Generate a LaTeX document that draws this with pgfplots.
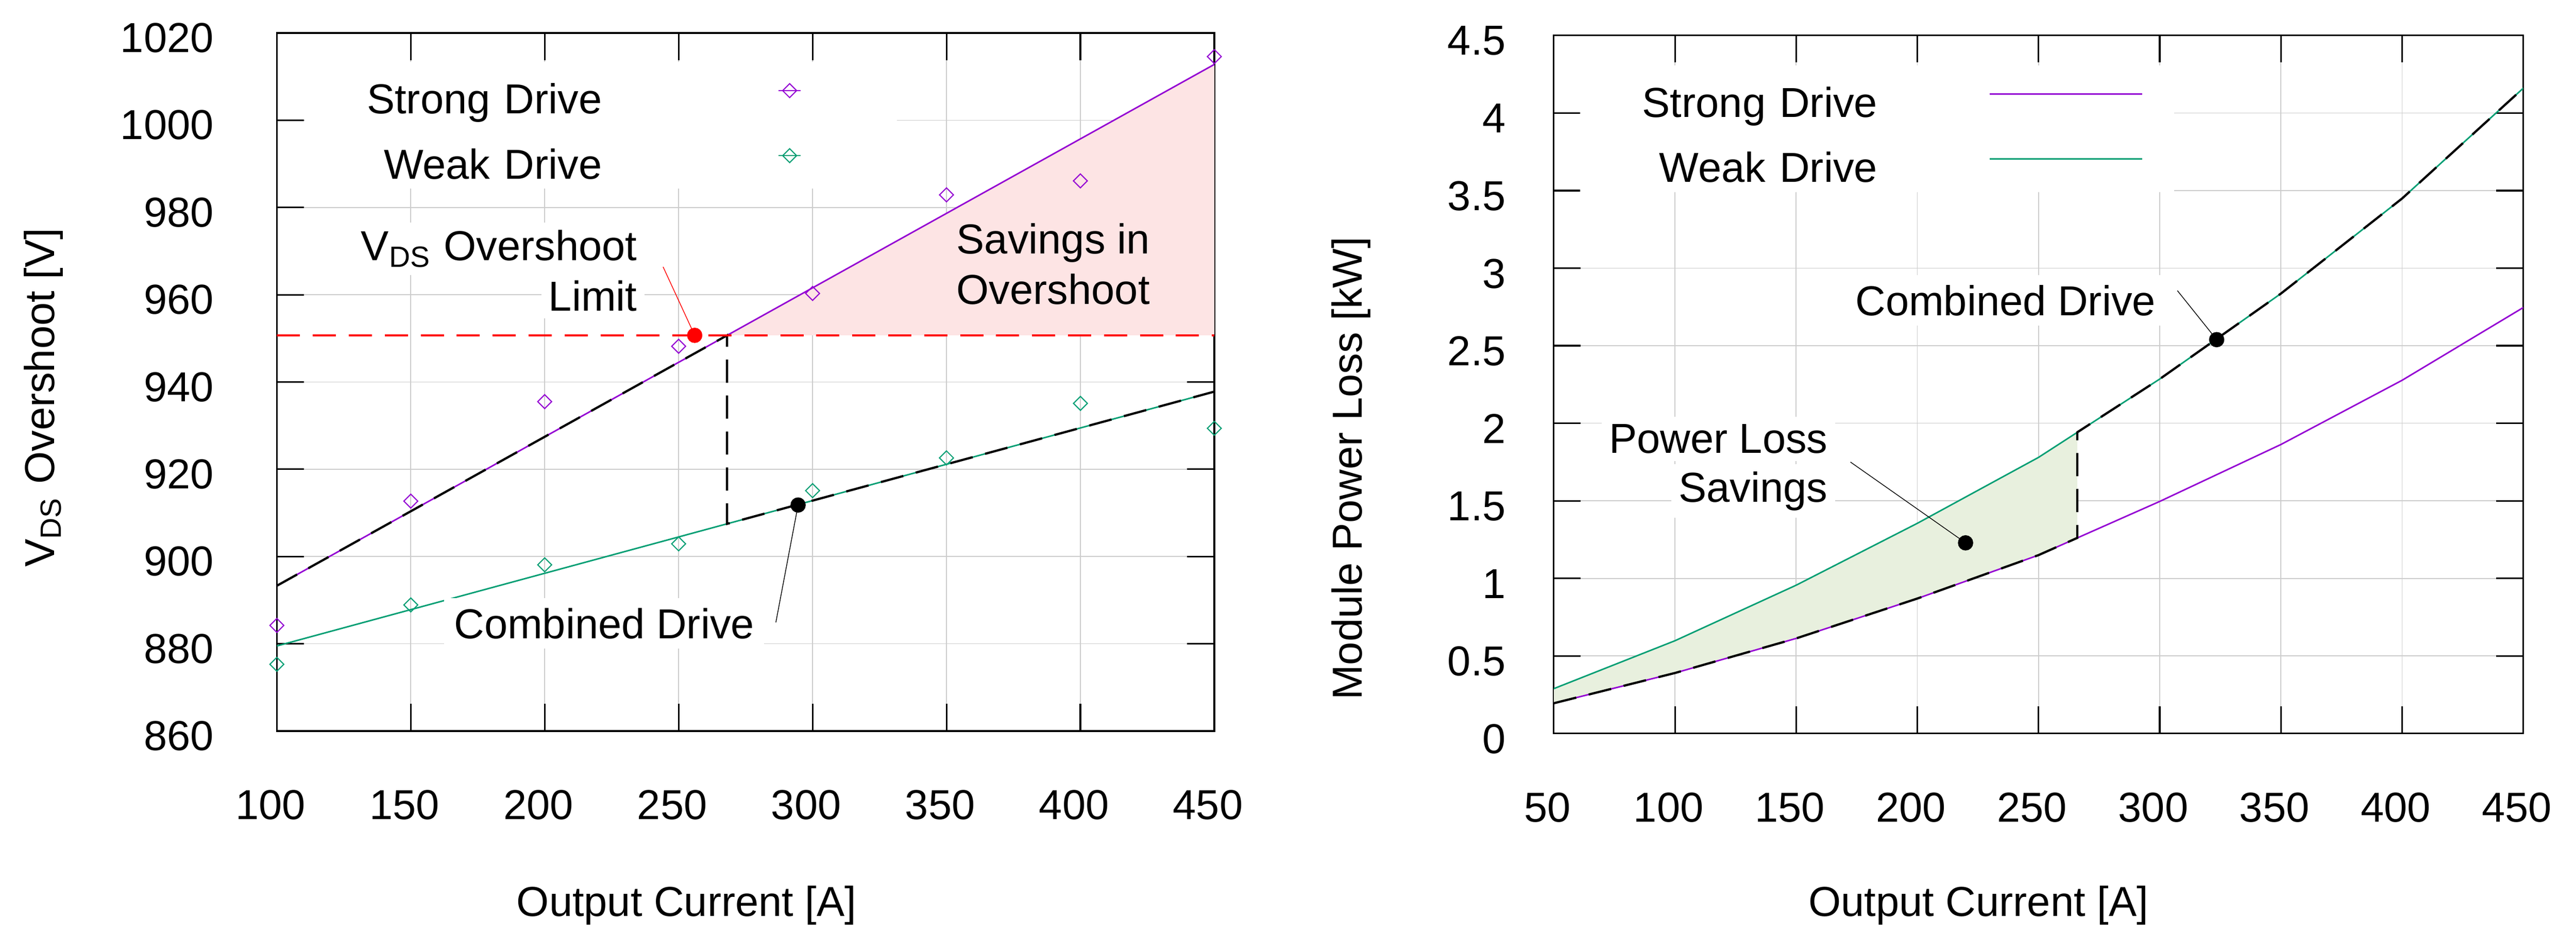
\documentclass[border=0pt]{standalone}
\usepackage{fontspec}
\setmainfont{Liberation Sans}
\usepackage{pgfplots}
\pgfplotsset{compat=1.18}

\definecolor{strongc}{HTML}{9400D3}
\definecolor{weakc}{HTML}{009E73}
\definecolor{pinkfill}{RGB}{253,228,228}
\definecolor{greenfill}{RGB}{232,240,222}
\definecolor{gridc}{RGB}{204,204,204}

\pgfplotsset{
	gnu/.style = {
		scale only axis,
		height = 141.7pt,
		axis line style = {line width = 0.33pt},
		tick style = {black, line width = 0.33pt},
		tick align = inside,
		major tick length = 5.5pt,
		grid = major,
		major grid style = {gridc, line width = 0.18pt},
		/pgf/number format/assume math mode = true,
		/pgf/number format/1000 sep = {},
		scaled ticks = false,
		xticklabel style = {yshift = -9pt, xshift = -1.3pt},
		legend plot pos = right,
		legend style = {
			draw = none,
			fill = white,
			inner xsep = 6.3pt,
			inner ysep = 0pt,
			row sep = 0.7pt,
			cells = {anchor = base east},
			nodes = {inner sep = 0pt, text width = 54pt, align = right,
				text height = 10.5pt, text depth = 2pt, anchor = base east},
			/tikz/every odd column/.style = {column sep = 22.6pt}
		}
	},
	combined/.style = {black, line width = 0.45pt, dash pattern = on 4.7pt off 2.6pt},
	pointer/.style = {line width = 0.15pt},
	dot/.style = {only marks, mark = *, mark size = 1.35pt},
	meas/.style = {only marks, mark = square, mark size = 1pt,
		mark options = {rotate = 45, solid, line width = 0.22pt}}
}

\begin{document}
\fontsize{8.5pt}{10pt}\selectfont
\begin{tikzpicture}
\useasboundingbox (0,0) rectangle (522.9pt,193pt);

% left: overshoot
\begin{axis}[
	gnu,
	at = {(56.2pt,44.6pt)},
	anchor = south west,
	width = 190.3pt,
	xmin = 100, xmax = 450,
	ymin = 860, ymax = 1020,
	xtick = {100,150,...,450},
	ytick = {860,880,...,1020},
	yticklabel style = {xshift = -9.8pt, yshift = -1pt},
	xlabel = {Output Current [A]},
	ylabel = {V\textsubscript{DS} Overshoot [V]},
	xlabel style = {at = {(axis description cs:0.437,-0.265)}, anchor = base},
	ylabel style = {at = {(axis description cs:-0.2375,0.4778)}, anchor = base},
	legend style = {at = {(0.6626,0.9598)}, anchor = north east},
	legend image code/.code = {
		\path[draw = none, fill = none] (0pt,0pt) -- (31pt,0pt);
		\draw[#1, solid, line width = 0.22pt] (13.25pt,4.7pt) -- (17.75pt,4.7pt);
		\draw[#1] plot coordinates {(15.5pt,4.7pt)};
	}
]
\addplot[fill = pinkfill, draw = none, forget plot] coordinates {
	(268.1,950.7) (450,1012.8) (450,950.7)
} -- cycle;
\addplot[strongc, line width = 0.3pt, forget plot] coordinates {(100,893.3) (450,1012.8)};
\addplot[weakc, line width = 0.3pt, forget plot] coordinates {(100,879.5) (450,937.8)};
\addplot[meas, strongc] coordinates {
	(100,884.2) (150,912.7) (200,935.5) (250,948.2)
	(300,960.3) (350,982.9) (400,986.1) (450,1014.6)
};
\addlegendentry{Strong Drive}
\addplot[meas, weakc] coordinates {
	(100,875.3) (150,888.9) (200,898.1) (250,902.9)
	(300,915.1) (350,922.6) (400,935.1) (450,929.4)
};
\addlegendentry{Weak Drive}
\addplot[combined, forget plot] coordinates {
	(100,893.3) (268.1,950.7) (268.1,907.5) (450,937.8)
};
\addplot[red, line width = 0.45pt, dash pattern = on 4.7pt off 2.6pt, forget plot] coordinates {
	(100,950.7) (450,950.7)
};
\addplot[red, pointer, forget plot] coordinates {(244.2,966.4) (256,950.7)};
\addplot[red, dot, forget plot] coordinates {(256,950.7)};
\addplot[black, pointer, forget plot] coordinates {(286.3,884.9) (294.6,911.8)};
\addplot[black, dot, forget plot] coordinates {(294.6,911.8)};
\node[anchor = base east, fill = white, inner sep = 1.5pt] at (axis cs:237.6,967.9) {V\textsubscript{DS} Overshoot};
\node[anchor = base east, fill = white, inner sep = 1.5pt] at (axis cs:237.6,956.3) {Limit};
\node[anchor = base west, inner sep = 0pt] at (axis cs:353.4,969.4) {Savings in};
\node[anchor = base west, inner sep = 0pt] at (axis cs:353.4,957.8) {Overshoot};
\node[anchor = base east, fill = white, inner sep = 2pt] at (axis cs:282.3,881.2) {Combined Drive};
\end{axis}

% right: power loss
\begin{axis}[
	gnu,
	at = {(315.4pt,44.1pt)},
	anchor = south west,
	width = 196.8pt,
	xmin = 50, xmax = 450,
	ymin = 0, ymax = 4.5,
	xtick = {50,100,...,450},
	ytick = {0,0.5,...,4.5},
	yticklabel style = {xshift = -6.7pt, yshift = -1.1pt},
	xlabel = {Output Current [A]},
	ylabel = {Module Power Loss [kW]},
	xlabel style = {at = {(axis description cs:0.438,-0.2618)}, anchor = base},
	ylabel style = {at = {(axis description cs:-0.1977,0.3797)}, anchor = base},
	legend style = {at = {(0.6407,0.9584)}, anchor = north east},
	legend image code/.code = {
		\draw[#1] (0pt,4.7pt) -- (31pt,4.7pt);
	}
]
\addplot[fill = greenfill, draw = none, forget plot] coordinates {
	(50,0.289) (100,0.598) (150,0.956) (200,1.355) (250,1.78) (266,1.942)
	(266,1.261) (250,1.15) (200,0.87) (150,0.613) (100,0.39) (50,0.195)
} -- cycle;
\addplot[strongc, line width = 0.3pt] coordinates {
	(50,0.195) (100,0.39) (150,0.613) (200,0.87) (250,1.15)
	(300,1.496) (350,1.863) (400,2.277) (450,2.746)
};
\addlegendentry{Strong Drive}
\addplot[weakc, line width = 0.3pt] coordinates {
	(50,0.289) (100,0.598) (150,0.956) (200,1.355) (250,1.78)
	(300,2.285) (350,2.836) (400,3.449) (450,4.16)
};
\addlegendentry{Weak Drive}
\addplot[combined, forget plot] coordinates {
	(50,0.195) (100,0.39) (150,0.613) (200,0.87) (250,1.15) (266,1.261)
	(266,1.942) (300,2.285) (350,2.836) (400,3.449) (450,4.16)
};
\addplot[black, pointer, forget plot] coordinates {(307.3,2.855) (323.5,2.539)};
\addplot[black, dot, forget plot] coordinates {(323.5,2.539)};
\addplot[black, pointer, forget plot] coordinates {(172.4,1.75) (219.9,1.229)};
\addplot[black, dot, forget plot] coordinates {(219.9,1.229)};
\node[anchor = base east, fill = white, inner sep = 2pt] at (axis cs:302.8,2.696) {Combined Drive};
\node[anchor = base east, fill = white, inner sep = 1.5pt] at (axis cs:166.5,1.807) {Power Loss};
\node[anchor = base east, fill = white, inner sep = 1.5pt] at (axis cs:166.5,1.493) {Savings};
\end{axis}
\end{tikzpicture}
\end{document}
